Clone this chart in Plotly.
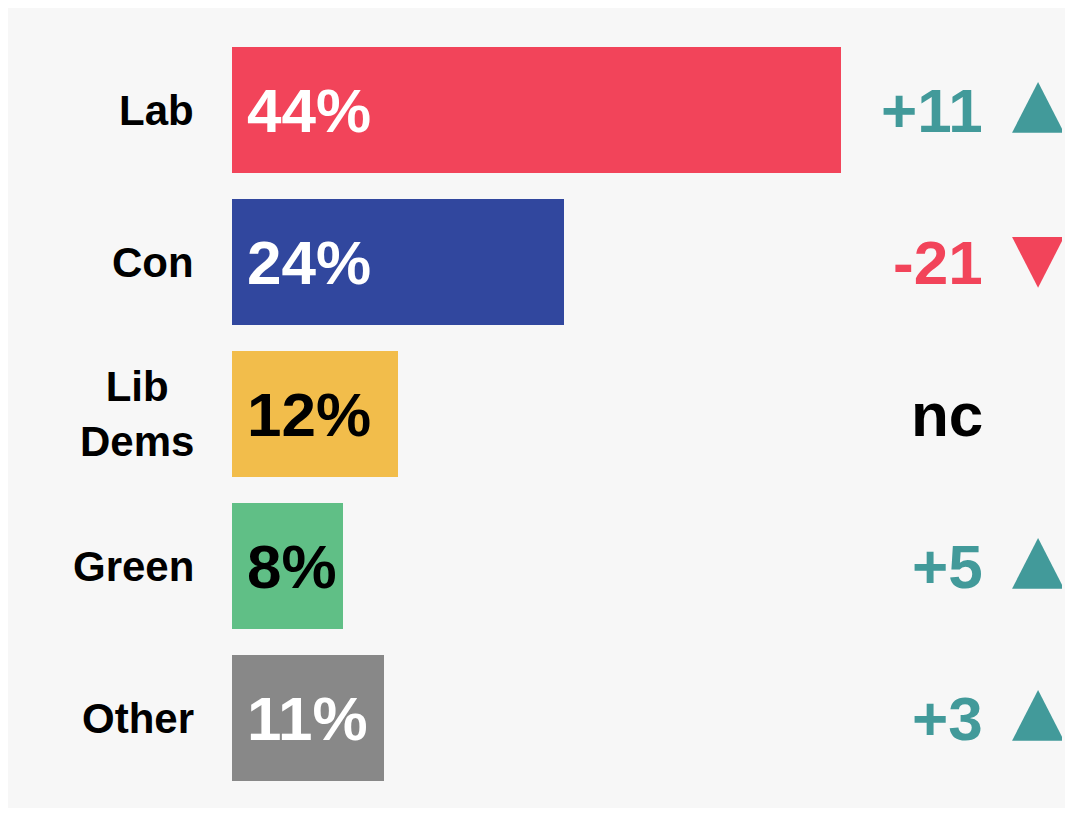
import plotly.graph_objects as go

# ---- data ----
parties = ["Lab", "Con", "Lib<br>Dems", "Green", "Other"]
shares = [44, 24, 12, 8, 11]
changes = [11, -21, 0, 5, 3]
bar_colors = ["#f2445a", "#31479e", "#f2bd4b", "#60bf86", "#888888"]
label_colors = ["white", "white", "black", "black", "white"]

# ---- styles ----
FONT = "Arial, 'Liberation Sans', sans-serif"
UP_COLOR = "#429a9a"
DOWN_COLOR = "#f2445a"
NC_COLOR = "black"
BG = "#f7f7f7"
X_MAX = 60
CHANGE_X = 54.45      # right edge of change text (data units)
TRI_X = 58.27         # centre of arrow triangles (data units)
TRI_HALF_W = 1.88
BAR_WIDTH = 0.83

rows = list(range(len(parties)))

fig = go.Figure()
fig.add_trace(go.Bar(
    x=shares, y=rows, orientation="h", width=BAR_WIDTH,
    marker=dict(color=bar_colors, line=dict(width=0)),
    hoverinfo="skip", showlegend=False,
))

annotations = []
for i, (p, v, c, tc) in enumerate(zip(parties, shares, changes, label_colors)):
    # category label
    annotations.append(dict(
        xref="paper", yref="y", x=0, y=i, xanchor="right", yanchor="middle",
        xshift=-36, text=p, align="center", showarrow=False,
        font=dict(family=FONT, size=42, color="black", weight="bold"),
    ))
    # value label inside bar
    annotations.append(dict(
        xref="x", yref="y", x=0, y=i, xanchor="left", yanchor="middle",
        xshift=13, text=f"{v}%", showarrow=False,
        font=dict(family=FONT, size=62, color=tc, weight="bold"),
    ))
    # change label
    if c > 0:
        txt, col = f"+{c}", UP_COLOR
    elif c < 0:
        txt, col = f"-{abs(c)}", DOWN_COLOR
    else:
        txt, col = "nc", NC_COLOR
    annotations.append(dict(
        xref="x", yref="y", x=CHANGE_X, y=i, xanchor="right", yanchor="middle",
        text=txt, showarrow=False,
        font=dict(family=FONT, size=62, color=col, weight="bold"),
    ))
    # arrow triangle
    if c != 0:
        if c > 0:
            ys = [i + 0.15, i + 0.15, i - 0.185, i + 0.15]
            col = UP_COLOR
        else:
            ys = [i - 0.165, i - 0.165, i + 0.17, i - 0.165]
            col = DOWN_COLOR
        xs = [TRI_X - TRI_HALF_W, TRI_X + TRI_HALF_W, TRI_X, TRI_X - TRI_HALF_W]
        fig.add_trace(go.Scatter(
            x=xs, y=ys, mode="lines", fill="toself", fillcolor=col,
            line=dict(width=0, color=col), hoverinfo="skip", showlegend=False,
        ))

fig.update_layout(
    width=1057, height=800,
    margin=dict(l=224, r=3, t=26, b=14, pad=0),
    paper_bgcolor=BG, plot_bgcolor=BG,
    xaxis=dict(range=[0, X_MAX], visible=False, fixedrange=True),
    yaxis=dict(range=[len(parties) - 0.5, -0.5], visible=False, fixedrange=True),
    annotations=annotations,
    bargap=0,
)

fig.write_html("out.html")
